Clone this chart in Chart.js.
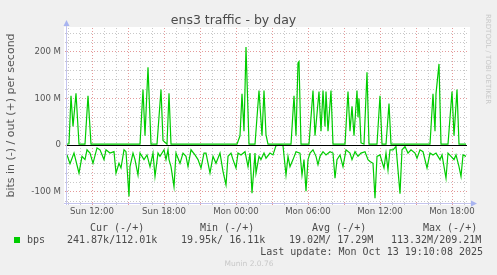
<!DOCTYPE html>
<html>
<head>
<meta charset="utf-8">
<script src="https://cdn.jsdelivr.net/npm/chart.js@4/dist/chart.umd.min.js"></script>
<style>
html, body { margin: 0; padding: 0; background: #f0f0f0; }
canvas { display: block; }
</style>
</head>
<body>
<canvas id="myChart" width="497" height="275"></canvas>
<script>
// x = 5 minute steps, step 0 = Sun 09:55
var startMinute = 9 * 60 + 55;
var dayNames = ['Sun', 'Mon'];

// out (+), Mbit/s
var outStep = [0, 2, 4, 6, 9, 12, 18, 21, 24, 73, 76, 78, 81, 84, 90, 94, 96, 100, 102, 104,
    170, 173, 175, 177, 179, 182, 188, 192, 195, 197, 199, 201, 224, 227, 229, 231, 232, 234,
    242, 246, 248, 252, 254, 256, 258, 259, 261, 264, 266, 278, 281, 283, 285, 287, 290, 291,
    292, 294, 297, 300, 302, 310, 313, 315, 319, 322, 324, 363, 366, 368, 369, 372, 374, 381,
    385, 387, 390, 392, 399];
var outMbps = [2, 3, 106, 40, 111, 2, 2, 106, 2, 2, 119, 20, 167, 2, 2, 119, 10, 2, 111, 2,
    2, 20, 110, 30, 210, 2, 2, 117, 20, 117, 22, 2, 2, 106, 20, 176, 179, 2,
    2, 117, 20, 115, 30, 117, 40, 115, 30, 117, 2, 2, 115, 30, 83, 20, 117, 60,
    100, 5, 2, 156, 2, 2, 106, 2, 2, 89, 2, 2, 110, 30, 110, 174, 2, 2,
    115, 20, 119, 2, 2];

// in (-), Mbit/s
var inStep = [0, 3, 7, 12, 15, 18, 20, 23, 26, 30, 33, 37, 39, 43, 47, 49, 52, 54, 57, 59,
    62, 63, 66, 68, 71, 73, 77, 80, 83, 86, 88, 91, 93, 97, 99, 101, 102, 104, 107, 109,
    113, 116, 119, 121, 124, 128, 131, 134, 137, 139, 143, 146, 149, 153, 156, 159, 161, 164, 166, 169,
    171, 174, 178, 181, 183, 185, 188, 189, 192, 194, 197, 199, 203, 206, 209, 213, 216, 219, 221, 223,
    226, 229, 233, 235, 237, 239, 241, 243, 246, 249, 251, 253, 256, 259, 263, 266, 268, 270, 273, 276,
    279, 283, 285, 288, 291, 294, 298, 301, 303, 306, 308, 310, 313, 315, 317, 319, 321, 323, 326, 329,
    333, 335, 338, 341, 344, 348, 350, 353, 356, 360, 363, 366, 369, 373, 375, 379, 381, 384, 387, 389,
    392, 394, 396, 399];
var inMbps = [-21, -40, -17, -60, -24, -31, -10, -17, -39, -6, -10, -31, -10, -17, -14, -60, -39, -49, -10, -14,
    -110, -46, -17, -31, -64, -17, -31, -21, -46, -17, -67, -17, -24, -10, -31, -10, -31, -46, -89, -17,
    -39, -17, -24, -46, -10, -21, -31, -49, -17, -17, -60, -24, -39, -17, -56, -85, -24, -17, -31, -49,
    -17, -21, -14, -46, -17, -103, -17, -60, -24, -31, -17, -28, -17, -21, -1, 0, -1, -64, -24, -46,
    -31, -14, -17, -64, -31, -99, -31, -17, -10, -24, -42, -24, -14, -21, -14, -17, -71, -31, -21, -46,
    -10, -17, -31, -14, -24, -17, -14, -31, -35, -39, -114, -24, -21, -35, -49, -17, -53, -10, -10, -3,
    -104, -10, -3, -17, -10, -17, -28, -10, -14, -49, -17, -21, -17, -31, -21, -71, -17, -24, -31, -21,
    -46, -67, -21, -24];

var legendHead = ['Cur (-/+)', 'Min (-/+)', 'Avg (-/+)', 'Max (-/+)'];
var legendValues = ['241.87k/112.01k', '19.95k/ 16.11k', '19.02M/ 17.29M', '113.32M/209.21M'];
var lastUpdate = 'Last update: Mon Oct 13 19:10:08 2025';

var sans = 'DejaVu Sans';
var mono = 'DejaVu Sans Mono';
var green = '#00cc00';
var minorGrid = '#c8c8c8';
var majorGrid = '#e49a9a';

function stepLabel(v) {
    var m = startMinute + v * 5;
    var day = Math.floor(m / 1440);
    var h = Math.floor((m % 1440) / 60);
    return dayNames[day] + ' ' + (h < 10 ? '0' : '') + h + ':00';
}

var muninPlugin = {
    id: 'munin',
    beforeDraw: function(chart) {
        var ctx = chart.ctx;
        var a = chart.chartArea;
        ctx.save();
        ctx.fillStyle = '#f0f0f0';
        ctx.fillRect(0, 0, chart.width, chart.height);
        ctx.fillStyle = '#ffffff';
        ctx.fillRect(a.left - 3, a.top - 1, a.right - a.left + 6, a.bottom - a.top + 3);
        ctx.restore();
    },
    afterDatasetsDraw: function(chart) {
        var ctx = chart.ctx;
        var a = chart.chartArea;
        var y0 = Math.round(chart.scales.y.getPixelForValue(0)) + 0.5;
        ctx.save();
        ctx.strokeStyle = '#000000';
        ctx.lineWidth = 1;
        ctx.beginPath();
        ctx.moveTo(a.left, y0);
        ctx.lineTo(a.right, y0);
        ctx.stroke();
        // axes with arrows
        ctx.strokeStyle = '#c4c4ee';
        ctx.beginPath();
        ctx.moveTo(a.left - 0.5, a.bottom + 2);
        ctx.lineTo(a.left - 0.5, a.top - 4);
        ctx.moveTo(a.left - 3, a.bottom + 0.5);
        ctx.lineTo(a.right + 4, a.bottom + 0.5);
        ctx.stroke();
        ctx.fillStyle = '#a8b4f0';
        ctx.beginPath();
        ctx.moveTo(a.left - 0.5, a.top - 8);
        ctx.lineTo(a.left - 3.5, a.top - 2);
        ctx.lineTo(a.left + 2.5, a.top - 2);
        ctx.closePath();
        ctx.fill();
        ctx.beginPath();
        ctx.moveTo(a.right + 10, a.bottom + 0.5);
        ctx.lineTo(a.right + 4, a.bottom - 2.5);
        ctx.lineTo(a.right + 4, a.bottom + 3.5);
        ctx.closePath();
        ctx.fill();
        ctx.restore();
    },
    afterDraw: function(chart) {
        var ctx = chart.ctx;
        ctx.save();
        ctx.textBaseline = 'middle';
        ctx.textAlign = 'left';
        ctx.font = '10px "' + mono + '"';
        ctx.fillStyle = '#4a4a4a';
        var headX = [90, 200, 312, 423];
        var valX = [67, 181, 289, 391];
        for (var i = 0; i < legendHead.length; i++) {
            ctx.fillText(legendHead[i], headX[i], 228);
            ctx.fillText(legendValues[i], valX[i], 240);
        }
        ctx.fillText('bps', 27, 240);
        ctx.textAlign = 'right';
        ctx.fillText(lastUpdate, 483, 252);
        ctx.fillStyle = green;
        ctx.fillRect(14, 237, 6, 6);
        ctx.fillStyle = '#c8c8c8';
        ctx.textAlign = 'center';
        ctx.font = '7.5px "' + sans + '"';
        ctx.fillText('Munin 2.0.76', 249, 264);
        ctx.translate(488, 14);
        ctx.rotate(Math.PI / 2);
        ctx.textAlign = 'left';
        ctx.font = '7px "' + sans + '"';
        ctx.fillText('RRDTOOL / TOBI OETIKER', 0, 0);
        ctx.restore();
    }
};

var myChart = document.getElementById('myChart').getContext('2d');
var chart = new Chart(myChart, {
    type: 'line',
    data: {
        datasets: [{
            label: 'out',
            data: outStep.map(function(s, i) { return {x: s, y: outMbps[i]}; }),
            borderColor: green,
            borderWidth: 1.2,
            pointRadius: 0,
            fill: false,
            tension: 0
        }, {
            label: 'in',
            data: inStep.map(function(s, i) { return {x: s, y: inMbps[i]}; }),
            borderColor: green,
            borderWidth: 1.2,
            pointRadius: 0,
            fill: false,
            tension: 0
        }]
    },
    options: {
        responsive: false,
        animation: false,
        events: [],
        layout: { padding: { left: 0, right: 30, top: 0, bottom: 0 } },
        plugins: {
            legend: { display: false },
            tooltip: { enabled: false },
            title: {
                display: true,
                text: 'ens3 traffic - by day',
                color: '#4a4a4a',
                font: { family: sans, size: 12.5, weight: 'normal' },
                padding: { top: 13, bottom: 0 }
            }
        },
        scales: {
            x: {
                type: 'linear',
                min: 0,
                max: 400,
                afterFit: function(scale) { scale.height = 72; },
                afterBuildTicks: function(scale) {
                    var t = [];
                    for (var v = 1; v <= 400; v += 12) t.push({value: v});
                    scale.ticks = t;
                },
                grid: {
                    color: function(c) {
                        return (c.tick && (c.tick.value - 25) % 36 === 0) ? majorGrid : minorGrid;
                    },
                    lineWidth: 1,
                    tickLength: 2
                },
                border: { display: false, dash: [1, 2] },
                ticks: {
                    autoSkip: false,
                    maxRotation: 0,
                    padding: 2,
                    color: '#555555',
                    font: { family: sans, size: 8.6 },
                    callback: function(v) {
                        return (v - 25) % 72 === 0 ? stepLabel(v) : '';
                    }
                }
            },
            y: {
                min: -124,
                max: 251,
                afterFit: function(scale) { scale.width = 67; },
                afterBuildTicks: function(scale) {
                    var t = [];
                    for (var v = -120; v <= 240; v += 20) t.push({value: v});
                    scale.ticks = t;
                },
                grid: {
                    color: function(c) {
                        return (c.tick && c.tick.value % 100 === 0) ? majorGrid : minorGrid;
                    },
                    lineWidth: 1,
                    tickLength: 2
                },
                border: { display: false, dash: [1, 2] },
                title: {
                    display: true,
                    text: 'bits in (-) / out (+) per second',
                    color: '#555555',
                    font: { family: sans, size: 11 },
                    padding: { top: 5, bottom: 0 }
                },
                ticks: {
                    autoSkip: false,
                    padding: 4,
                    color: '#555555',
                    font: { family: sans, size: 8.6 },
                    callback: function(v) {
                        if (v === 0) return '0';
                        return v % 100 === 0 ? v + ' M' : '';
                    }
                }
            }
        }
    },
    plugins: [muninPlugin]
});
</script>
</body>
</html>
